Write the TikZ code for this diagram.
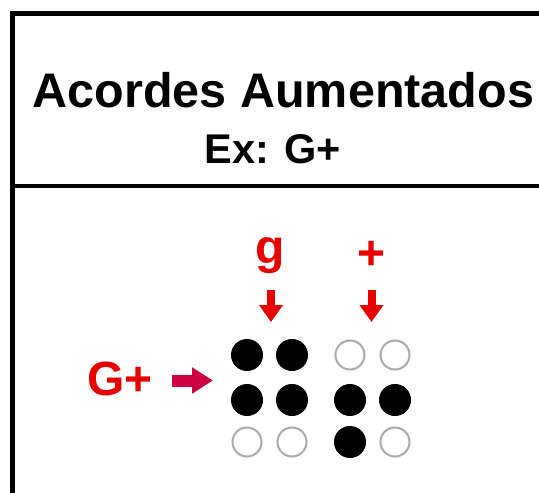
\documentclass[tikz,border=0pt]{standalone}
\usepackage{fontspec}
\setmainfont{Liberation Sans}
\usetikzlibrary{arrows.meta}
\definecolor{brred}{RGB}{230,0,0}
\definecolor{brpink}{RGB}{205,0,65}
\definecolor{brgray}{RGB}{170,170,170}
\tikzset{
 dotfull/.style={circle,fill=black,inner sep=0pt,minimum size=32pt},
 dotempty/.style={circle,draw=brgray,line width=2pt,inner sep=0pt,minimum size=29pt},
 redlbl/.style={text=brred,font=\bfseries\fontsize{48}{48}\selectfont},
 downarr/.style={brred,line width=8pt,-{Triangle[width=23pt,length=17pt]}}
}
\begin{document}
\begin{tikzpicture}[x=1pt,y=-1pt]
 \useasboundingbox (0,0) rectangle (539,493);
 \draw[line width=5pt] (12.5,493)--(12.5,13.5)--(539,13.5);
 \draw[line width=4pt] (12.5,186)--(539,186);
 \node[anchor=base,font=\bfseries\fontsize{48.5}{48.5}\selectfont] (title) at (283.5,107) {Acordes Aumentados};
 \node[anchor=base,font=\bfseries\fontsize{41.5}{41.5}\selectfont] (ex) at (273,163) {Ex: G+};
 % braille cells
 \foreach \c/\x in {1/247,2/292,3/350,4/395}
  \foreach \r/\y in {1/355,2/400,3/442}
   \node[dotempty] (d\c\r) at (\x,\y) {};
 \foreach \n in {d11,d21,d12,d22,d32,d42,d33}
  \node[dotfull] at (\n) {};
 \node[redlbl,anchor=base] (lg) at (270,263) {g};
 \node[redlbl] (lplus) at (371.5,255.5) {+};
 \node[redlbl,anchor=base] (lgplus) at (120,395) {G+};
 \coordinate (ga) at (271,290);
 \coordinate (gb) at (271,322);
 \coordinate (pa) at (371.5,290);
 \coordinate (pb) at (371.5,322);
 \coordinate (ha) at (172,380.5);
 \coordinate (hb) at (213,380.5);
 \draw[downarr] (ga)--(gb);
 \draw[downarr] (pa)--(pb);
 \draw[downarr,brpink,line width=12pt,-{Triangle[width=25pt,length=21pt]}] (ha)--(hb);
\end{tikzpicture}
\end{document}
